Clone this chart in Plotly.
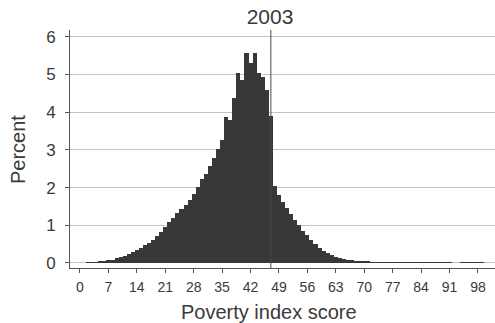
import plotly.graph_objects as go

# Histogram bins (poverty index score, 1-point bins centred on integers)
scores = list(range(0, 100))
percent = [
    0.01, 0.01, 0.02, 0.02, 0.03, 0.04, 0.05, 0.07, 0.09, 0.12,   # 0-9
    0.15, 0.19, 0.23, 0.28, 0.34, 0.40, 0.47, 0.54, 0.62, 0.72,   # 10-19
    0.82, 0.95, 1.08, 1.20, 1.32, 1.42, 1.54, 1.66, 1.82, 2.02,   # 20-29
    2.22, 2.36, 2.56, 2.78, 3.02, 3.26, 3.88, 3.80, 4.37, 5.03,   # 30-39
    4.85, 5.58, 5.30, 5.58, 5.03, 4.92, 4.60, 3.90, 2.05, 1.80,   # 40-49
    1.62, 1.46, 1.30, 1.15, 1.00, 0.86, 0.73, 0.61, 0.50, 0.41,   # 50-59
    0.33, 0.26, 0.20, 0.16, 0.13, 0.10, 0.08, 0.07, 0.06, 0.05,   # 60-69
    0.045, 0.04, 0.035, 0.03, 0.03, 0.028, 0.027, 0.026, 0.025, 0.025,  # 70-79
    0.024, 0.023, 0.022, 0.022, 0.021, 0.02, 0.02, 0.02, 0.02, 0.02,    # 80-89
    0.02, 0.02, 0.005, 0.005, 0.02, 0.02, 0.02, 0.02, 0.02, 0.02,       # 90-99
]
x_ticks = list(range(0, 99, 7))
y_ticks = [0, 1, 2, 3, 4, 5, 6]
marker_line_x = 47
title_text = "2003"
x_title = "Poverty index score"
y_title = "Percent"

FONT = "Liberation Sans, Arial, Helvetica, sans-serif"
TXT = "#3a3a3a"
W, H = 495, 323
PL, PT, PB = 70, 30, 55          # plot area: x 70..495, y 30..268
PW, PH = W - PL, H - PT - PB

fig = go.Figure()
fig.add_trace(go.Bar(
    x=scores, y=percent, width=1.0,
    marker=dict(color="#383838", line=dict(width=0)),
    hoverinfo="skip",
))

fig.add_shape(type="line", xref="x", yref="paper",
              x0=marker_line_x, x1=marker_line_x, y0=0, y1=1,
              line=dict(color="#4a4a4a", width=1), layer="above")

# axis titles as paper annotations
fig.add_annotation(text=x_title, xref="paper", yref="paper",
                   x=(269 - PL) / PW, y=-(312 - 268) / PH,
                   xanchor="center", yanchor="middle", showarrow=False,
                   font=dict(size=20, color=TXT, family=FONT))
fig.add_annotation(text=y_title, xref="paper", yref="paper",
                   x=-(PL - 18) / PW, y=(268 - 150) / PH,
                   xanchor="center", yanchor="middle", showarrow=False,
                   textangle=-90,
                   font=dict(size=20, color=TXT, family=FONT))

fig.update_layout(
    width=W, height=H,
    margin=dict(l=PL, r=0, t=PT, b=PB, autoexpand=False),
    paper_bgcolor="white", plot_bgcolor="white",
    bargap=0, showlegend=False, hovermode=False,
    font=dict(family=FONT, color=TXT, size=15),
    title=dict(text=title_text, x=270 / W, xanchor="center",
               y=1 - 17 / H, yanchor="middle",
               font=dict(size=21, color=TXT, family=FONT)),
)
fig.update_xaxes(
    range=[-2.46, 102.2], tickvals=x_ticks, ticktext=[str(v) for v in x_ticks],
    showgrid=False, zeroline=False, automargin=False,
    showline=True, linecolor="#555", linewidth=1,
    ticks="outside", ticklen=4, tickcolor="#555",
    tickfont=dict(size=14, color=TXT), ticklabelstandoff=2,
)
fig.update_yaxes(
    range=[-0.133, 6.178], tickvals=y_ticks, ticktext=[str(v) for v in y_ticks],
    showgrid=True, gridcolor="#c4c4c4", gridwidth=1, zeroline=False, automargin=False,
    showline=True, linecolor="#555", linewidth=1,
    ticks="outside", ticklen=4, tickcolor="#555",
    tickfont=dict(size=17, color=TXT), ticklabelstandoff=6,
)

fig.write_html("out.html",
               config={"displayModeBar": False, "staticPlot": True},
               post_script="document.body.style.margin='0';document.body.style.overflow='hidden';")
